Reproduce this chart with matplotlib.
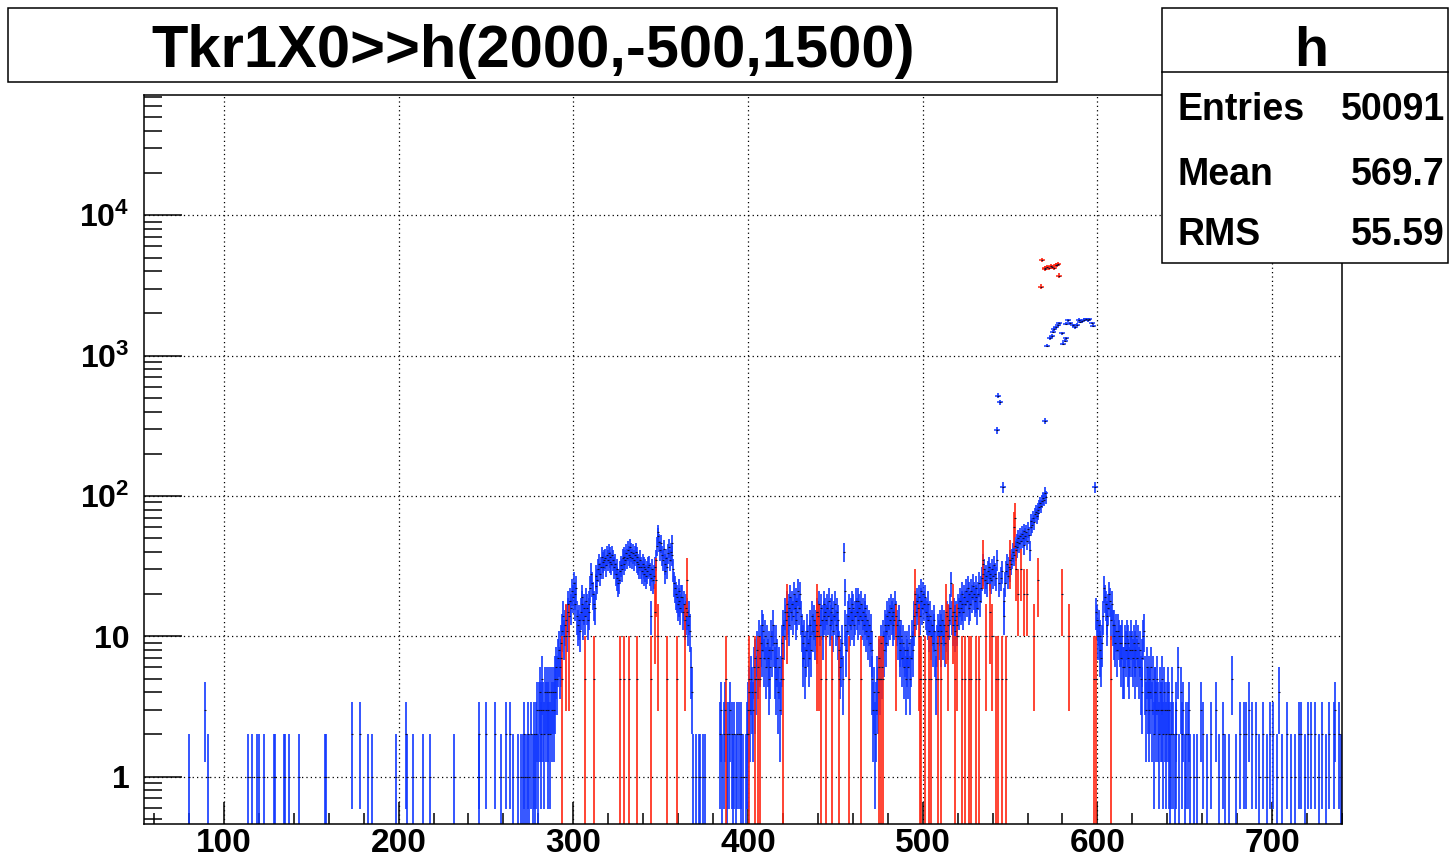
import numpy as np
import matplotlib
matplotlib.use("Agg")
import matplotlib.pyplot as plt
from matplotlib.patches import Rectangle
from matplotlib.ticker import FixedLocator, LogLocator, MultipleLocator, NullFormatter, FixedFormatter

plt.rcParams['font.family'] = ['Liberation Sans', 'DejaVu Sans']
plt.rcParams['font.weight'] = 'bold'
plt.rcParams['mathtext.fontset'] = 'custom'
plt.rcParams['mathtext.rm'] = 'Liberation Sans:bold'
plt.rcParams['mathtext.bf'] = 'Liberation Sans:bold'

W, H = 1449, 863
BIN = 0.5

# ---- blue histogram (entries per 0.5 bin) ----
# isolated bins, low side
low_x = [80.25, 89.25, 90.75, 113.75, 116.25, 119.25, 120.25, 122.75, 128.75, 129.25,
         134.25, 134.75, 137.25, 142.75, 157.75, 158.25, 173.25, 177.75, 182.25, 184.75,
         198.25, 204.25, 204.75, 208.25, 213.75, 217.75, 231.75, 245.75, 246.25, 250.25,
         255.25, 258.75, 261.25, 263.75, 265.75, 268.25,
         368.75, 370.25, 371.75, 372.25, 374.25, 375.25]
low_n = [1, 3, 1, 1, 1, 1, 1, 1, 1, 1,
         1, 1, 1, 1, 1, 1, 2, 2, 1, 1,
         1, 2, 1, 1, 1, 1, 1, 2, 1, 2,
         2, 1, 2, 2, 1, 1,
         1, 1, 1, 1, 1, 1]

# contiguous bins from 270.25
hump_start = 270.25
hump_n = [1, 0, 1, 2, 1, 0, 1, 0, 2, 1, 0, 2, 0, 1, 2, 0, 1, 2, 3, 1,
          3, 4, 2, 3, 5, 3, 2, 4, 3, 4, 2, 3, 4, 2, 4, 3, 4, 3, 4, 5, 6, 5, 7, 8,
          6, 9, 7, 11, 14, 10, 12, 13, 11, 15, 17, 14, 18, 16, 21, 19,
          24, 20, 17, 22, 14, 12, 13, 11, 15, 19, 17, 13, 16, 14, 18, 16,
          13, 15, 17, 22, 28, 24, 20, 17, 16, 23, 27, 25, 30, 33, 28, 31,
          37, 34, 31, 35, 36, 32, 38, 35, 39, 34, 37, 33, 38, 35, 31, 33,
          28, 26, 30, 24, 25, 29, 32, 30, 36, 33, 37, 35, 39, 36, 41, 38,
          43, 37, 40, 36, 39, 35, 38, 40, 37, 34, 33, 31, 35, 31, 29, 33,
          31, 28, 30, 27, 29, 31, 32, 28, 14, 26, 30, 25, 27, 31, 35, 44,
          52, 55, 47, 41, 46, 38, 35, 42, 33, 29, 36, 31, 39, 43, 35, 40,
          46, 38, 30, 24, 22, 20, 19, 17, 21, 18, 16, 19, 19, 15, 17, 13,
          16, 14, 15, 12, 14, 11, 6, 4]

# contiguous bins from 383.25
mid_start = 383.25
mid_n = [0, 2, 0, 3, 1, 0, 2, 3,
         0, 2, 1, 0, 2, 3, 0, 2,
         1, 0, 2, 0, 1, 2, 0, 2,
         0, 2, 1, 0, 1, 0, 0, 1,
         2, 3, 2, 4, 3, 5, 4, 3,
         6, 4, 7, 5, 8, 6, 10, 7,
         9, 12, 8, 11, 7, 10, 6, 9,
         7, 5, 8, 6, 10, 8, 12, 9,
         6, 9, 5, 7, 4, 6, 3, 5,
         7, 9, 12, 10, 15, 13, 17, 14,
         12, 16, 19, 15, 17, 14, 20, 16,
         13, 18, 15, 21, 16, 20, 14, 11,
         9, 7, 10, 6, 8, 11, 9, 7,
         10, 12, 8, 14, 11, 13, 10, 12,
         15, 11, 14, 17, 12, 16, 13, 10,
         14, 17, 15, 13, 16, 14, 18, 12,
         15, 13, 16, 11, 14, 17, 12, 15,
         13, 10, 8, 6, 7, 9, 5, 40,
         21, 12, 8, 11, 14, 16, 12, 15,
         17, 13, 16, 12, 14, 18, 15, 13,
         18, 16, 14, 17, 13, 15, 12, 16,
         14, 11, 13, 10, 12, 9, 11, 8,
         5, 3, 4, 2, 3, 5, 4, 6,
         7, 5, 9, 6, 10, 8, 12, 9,
         11, 14, 12, 15, 13, 16, 14, 12,
         15, 13, 17, 14, 12, 10, 13, 9,
         8, 10, 7, 9, 6, 8, 5, 7,
         8, 6, 9, 5, 7, 10, 8, 12,
         14, 17, 15, 18, 16, 19, 14, 21,
         18, 16, 20, 17, 19, 15, 14, 17,
         13, 11, 14, 10, 12, 9, 11, 13,
         8, 5, 9, 11, 10, 12, 9, 11,
         13, 10, 12, 9, 11, 14, 10, 12,
         13, 16, 24, 14, 12, 15, 11, 13,
         14, 12, 16, 15, 18, 16, 20, 17,
         15, 19, 17, 21, 18, 22, 16, 20,
         17, 21, 19, 23, 20, 18, 22, 19,
         16, 20, 24, 18, 22, 26, 33, 28,
         30, 25, 27, 24, 29, 31, 26, 28,
         25, 30, 27, 32, 28, 26, 293, 35,
         518, 24, 464, 26, 29, 116, 14, 18,
         24, 29, 33, 27, 31, 35, 30, 33,
         36, 40, 38, 44, 41, 47, 43, 50,
         46, 52, 48, 54, 50, 56, 45, 52,
         55, 48, 58, 53, 41, 60, 66, 62,
         70, 65, 74, 77, 72, 80, 76, 84,
         89, 85, 92, 96, 94, 105, 343, 98]

# main peak
peak_x = [571.25, 572.75, 573.75, 574.75, 575.25, 576.25, 577.25, 578.25, 579.75, 580.25,
          581.25, 581.75, 582.25, 583.25, 584.25, 586.25, 587.25, 588.25, 589.25, 590.25,
          591.25, 592.25, 593.75, 594.75, 595.25, 596.75, 597.75]
peak_n = [1180, 1340, 1380, 1480, 1550, 1590, 1650, 1710, 1440, 1220,
          1280, 1330, 1690, 1790, 1700, 1650, 1600, 1660, 1800, 1740,
          1760, 1800, 1820, 1790, 1820, 1710, 1640]

# contiguous bins from 598.75
tail_start = 598.75
tail_n = [115,
          15, 13, 10, 12, 8, 10, 7, 9,
          14, 22, 19, 17, 14, 12, 16, 20,
          18, 13, 17, 12, 10, 12, 9, 11,
          8, 11, 10, 9, 9, 7, 10, 6,
          6, 9, 8, 10, 7, 9, 6, 8,
          10, 8, 7, 9, 6, 8, 10, 7,
          9, 6, 8, 5, 7, 4, 10, 11,
          5, 3, 6, 4, 5, 3, 4, 6,
          3, 5, 2, 4, 4, 3, 5, 3,
          2, 4, 3, 5, 3, 2, 4, 3,
          2, 3, 4, 2, 3, 1, 2, 4,
          2, 0, 1, 2, 3, 0, 6, 1,
          0, 4, 2, 0, 3, 0, 1, 2,
          0, 2, 3, 0]

far_x = [653.25, 655.25, 657.25, 659.25, 660.25, 662.75, 664.75, 667.75, 669.75, 671.75,
         673.25, 675.25, 677.25, 679.25, 681.75, 683.75, 685.25, 686.75, 688.75, 690.75,
         692.75, 694.75, 697.25, 698.75, 700.25, 702.75, 703.75, 705.75, 708.75, 710.75,
         713.25, 715.25, 716.75, 718.75, 720.75, 722.25, 724.75, 726.75, 728.75, 730.75,
         732.75, 735.25, 736.25, 738.25, 739.25]
far_n = [1, 1, 1, 3, 2, 1, 2, 3, 1, 2,
         1, 1, 5, 1, 2, 2, 2, 3, 2, 2,
         1, 2, 1, 2, 2, 1, 4, 1, 2, 1,
         1, 2, 2, 1, 2, 2, 2, 1, 2, 1,
         2, 2, 3, 2, 1]

# ---- red histogram (weighted, weight 5 per entry) ----
red_x = [293.75, 295.75, 297.75, 306.75, 311.75, 326.75, 328.75, 331.75, 336.75, 344.25,
         346.75, 347.25, 348.75, 353.75, 359.25, 363.75, 365.25,
         387.25, 400.75, 403.75, 405.75, 406.75, 420.25, 422.25, 439.25, 439.75, 440.75,
         441.75, 444.75, 448.25, 452.25, 457.75, 464.75, 475.25, 476.25, 477.25, 484.75,
         495.75, 497.75, 498.25, 499.25, 501.25, 503.75, 504.75, 508.75, 510.25, 513.25,
         514.75, 517.25, 518.75, 519.75, 522.75, 524.25, 526.75, 527.75, 530.75, 532.25,
         534.25, 536.25, 538.25, 539.75, 541.75, 543.25, 545.25, 547.75, 549.75, 552.25,
         552.75, 553.25, 554.75, 556.25, 558.25, 559.75, 563.75, 566.25,
         567.75, 568.25, 569.75, 570.25, 571.25, 572.25, 573.25, 574.25, 575.25, 576.25,
         576.75, 577.25, 578.25,
         579.75, 583.75, 598.25, 599.25, 607.75]
red_v = [5, 10, 10, 5, 5, 5, 5, 5, 5, 5,
         15, 25, 10, 5, 5, 10, 25,
         5, 5, 5, 5, 5, 5, 15, 15, 10, 10,
         5, 5, 5, 5, 5, 5, 5, 5, 5, 10,
         20, 10, 5, 5, 5, 5, 5, 5, 5, 15,
         10, 15, 5, 10, 5, 5, 5, 5, 5, 5,
         35, 10, 15, 10, 5, 5, 5, 5, 35, 60,
         70, 30, 20, 30, 20, 20, 10, 25,
         3100, 4800, 4160, 4225, 4290, 4225, 4340, 4290, 4225, 4400,
         4450, 4520, 3720,
         20, 10, 5, 5, 5]

title = "Tkr1X0>>h(2000,-500,1500)"
stats = [("Entries", "50091"), ("Mean", "569.7"), ("RMS", "55.59")]


def contiguous(start, counts):
    xs = start + BIN * np.arange(len(counts))
    return list(xs), list(counts)


bx, bn = list(low_x), list(low_n)
for s, c in [(hump_start, hump_n), (mid_start, mid_n), (tail_start, tail_n)]:
    xs, cs = contiguous(s, c)
    bx += xs
    bn += cs
bx += peak_x + far_x
bn += peak_n + far_n
bx = np.array(bx, dtype=float)
bn = np.array(bn, dtype=float)
keep = bn > 0
bx, bn = bx[keep], bn[keep]
b_err = np.sqrt(bn)

rx = np.array(red_x, dtype=float)
rv = np.array(red_v, dtype=float)
r_err = np.sqrt(5.0 * rv)

fig = plt.figure(figsize=(W / 100, H / 100), dpi=100)
ax = fig.add_axes([143.5 / W, 1 - 824 / H, (1342 - 143.5) / W, (824 - 95) / H])
ax.set_yscale('log')
ax.set_xlim(54, 740)
ax.set_ylim(0.46, 7.2e4)

ax.grid(True, which='major', color='k', ls=(0, (1, 2.5)), lw=0.9, zorder=0)


def draw(x, y, e, color):
    lo = np.where(y - e > 0, y - e, 0.1)
    ax.vlines(x, lo, y + e, color=color, lw=1.2, zorder=2)
    # bin-width bar only visible where the error bar is short
    big = y > 100
    ax.plot(x[big], y[big], ls='none', marker='_', ms=4, mew=1.1, color=color, zorder=2)
    ax.plot(x, y, ls='none', marker='_', ms=2.0, mew=0.8, color='#101030', zorder=3)


draw(bx, bn, b_err, '#1238ff')
draw(rx, rv, r_err, '#ff2410')

# axes styling
for sp in ax.spines.values():
    sp.set_linewidth(1.1)
ax.xaxis.set_major_locator(MultipleLocator(100))
ax.xaxis.set_minor_locator(MultipleLocator(20))
ax.tick_params(axis='x', which='major', direction='in', length=16, width=1.1,
               labelsize=24, pad=3, top=False)
ax.tick_params(axis='x', which='minor', direction='in', length=8, width=1.1, top=False)
ax.yaxis.set_major_locator(FixedLocator([1, 10, 100, 1000, 10000]))
ax.yaxis.set_major_formatter(FixedFormatter(['1', '10', r'$\mathbf{10^{2}}$',
                                             r'$\mathbf{10^{3}}$', r'$\mathbf{10^{4}}$']))
ax.yaxis.set_minor_locator(LogLocator(base=10, subs=np.arange(2, 10), numticks=20))
ax.yaxis.set_minor_formatter(NullFormatter())
ax.tick_params(axis='y', which='major', direction='in', length=27, width=1.1,
               labelsize=23, pad=10, right=False)
ax.tick_params(axis='y', which='minor', direction='in', length=13, width=1.1, right=False)

# title box
fig.patches.append(Rectangle((8 / W, 1 - 82 / H), (1057 - 8) / W, 74 / H,
                             transform=fig.transFigure, fc='white', ec='k', lw=1.1))
fig.text(533 / W, 1 - 67 / H, title, ha='center', va='baseline', fontsize=43, weight='bold')

# stats box
fig.patches.append(Rectangle((1162 / W, 1 - 263 / H), (1448 - 1162) / W, 255 / H,
                             transform=fig.transFigure, fc='white', ec='k', lw=1.1, zorder=5))
fig.lines.append(plt.Line2D([1162 / W, 1448 / W], [1 - 72 / H, 1 - 72 / H],
                            transform=fig.transFigure, color='k', lw=1.1, zorder=6))
fig.text(1311 / W, 1 - 66 / H, "h", ha='center', va='baseline', fontsize=40,
         weight='bold', zorder=7)
for (lab, val), yb in zip(stats, [120, 185, 245]):
    fig.text(1178 / W, 1 - yb / H, lab, ha='left', va='baseline', fontsize=27,
             weight='bold', zorder=7)
    fig.text(1445 / W, 1 - yb / H, val, ha='right', va='baseline', fontsize=27,
             weight='bold', zorder=7)

fig.savefig("out.png", dpi=100)
